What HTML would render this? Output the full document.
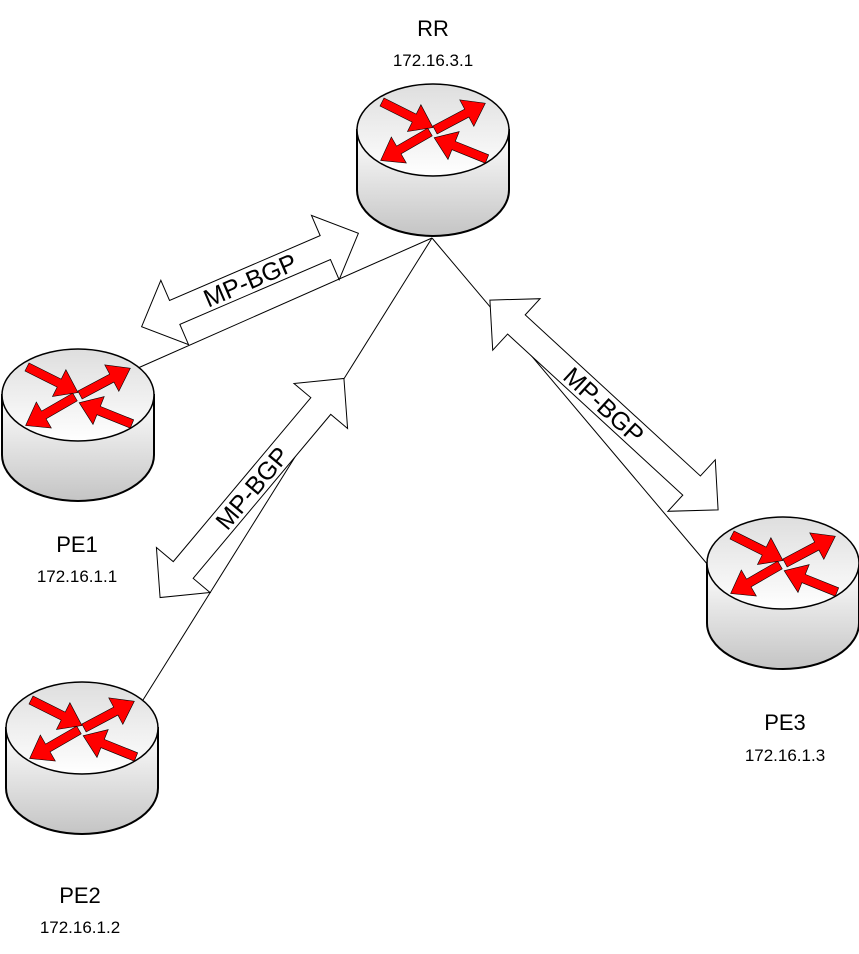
<!DOCTYPE html>
<html><head><meta charset="utf-8"><style>
html,body{margin:0;padding:0;background:#fff;}
svg{display:block;font-family:"Liberation Sans",sans-serif;}
</style></head><body>
<svg width="859" height="954" viewBox="0 0 859 954" xmlns="http://www.w3.org/2000/svg">
<defs>
<linearGradient id="body" x1="0" y1="0" x2="0" y2="1">
<stop offset="0" stop-color="#ffffff"/><stop offset="1" stop-color="#c4c4c4"/>
</linearGradient>
<linearGradient id="top" x1="0" y1="0" x2="0" y2="1">
<stop offset="0" stop-color="#dedede"/><stop offset="1" stop-color="#ffffff"/>
</linearGradient>
<polygon id="ra" points="0,-4.5 36,-4.5 36,-15 57,0 36,15 36,4.5 0,4.5" fill="#f00" stroke="#000" stroke-width="0.6"/>
<g id="router">
<path d="M-76,0 L-76,60 A76,46 0 0 0 76,60 L76,0 Z" fill="url(#body)" stroke="#000" stroke-width="2"/>
<ellipse cx="0" cy="0" rx="76" ry="46" fill="url(#top)" stroke="#000" stroke-width="1.5"/>
<use href="#ra" transform="translate(-51,-28) rotate(26.6)"/>
<use href="#ra" transform="translate(2,0) rotate(-28)"/>
<use href="#ra" transform="translate(-3,2) rotate(150)"/>
<use href="#ra" transform="translate(54,29) rotate(202)"/>
</g>
</defs>

<g stroke="#000" stroke-width="1" fill="none">
<line x1="432" y1="238" x2="138" y2="368"/>
<line x1="432" y1="238" x2="143" y2="700"/>
<line x1="432" y1="238" x2="708" y2="565"/>
</g>

<use href="#router" x="433" y="130"/>
<use href="#router" x="78" y="395"/>
<use href="#router" x="82" y="728"/>
<use href="#router" x="783" y="563"/>

<g transform="translate(250,280) rotate(-23.3)">
<polygon points="-118,0 -82,-35 -82,-13 82,-13 82,-35 118,0 82,35 82,13 -82,13 -82,35" fill="#fff" stroke="#000" stroke-width="1"/>
<text x="0" y="9" font-size="25" text-anchor="middle">MP-BGP</text>
</g>
<g transform="translate(252,488) rotate(-50)">
<polygon points="-143,0 -107,-35 -107,-13 107,-13 107,-35 143,0 107,35 107,13 -107,13 -107,35" fill="#fff" stroke="#000" stroke-width="1"/>
<text x="0" y="9" font-size="25" text-anchor="middle">MP-BGP</text>
</g>
<g transform="translate(604,405) rotate(42.6)">
<polygon points="-155,0 -119,-35 -119,-13 119,-13 119,-35 155,0 119,35 119,13 -119,13 -119,35" fill="#fff" stroke="#000" stroke-width="1"/>
<text x="0" y="9" font-size="25" text-anchor="middle">MP-BGP</text>
</g>

<g fill="#000" text-anchor="middle">
<text x="433" y="36" font-size="22">RR</text>
<text x="433" y="66" font-size="17">172.16.3.1</text>
<text x="77" y="552" font-size="22">PE1</text>
<text x="77" y="582" font-size="17">172.16.1.1</text>
<text x="80" y="903" font-size="22">PE2</text>
<text x="80" y="933" font-size="17">172.16.1.2</text>
<text x="785" y="730" font-size="22">PE3</text>
<text x="785" y="761" font-size="17">172.16.1.3</text>
</g>
</svg>
</body></html>
